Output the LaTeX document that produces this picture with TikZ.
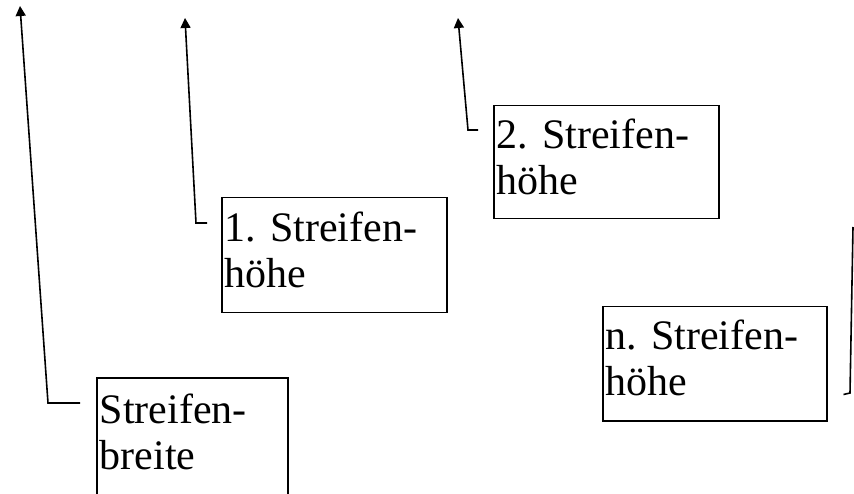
\documentclass[tikz,border=0pt]{standalone}
\usepackage{fontspec}
\setmainfont{Liberation Serif}
\usetikzlibrary{calc,arrows.meta}
\begin{document}
\begin{tikzpicture}[x=1pt,y=-1pt,
  lbl/.style={draw, line width=1.5pt, anchor=north west, align=flush left,
    text width=#1, inner xsep=3pt, inner ysep=0pt,
    font=\fontsize{42}{46}\selectfont},
  conn/.style={line width=1.6pt},
  arr/.style={conn, -{Triangle[width=10pt,length=10pt]}}]
\useasboundingbox (0,0) rectangle (854,494);
% boxes
\node[lbl=185pt, minimum height=120pt] (bb) at (96,377) {\strut Streifen-\\breite\strut};
\node[lbl=219pt, minimum height=115pt] (b1) at (221,197) {\strut 1. Streifen-\\höhe\strut};
\node[lbl=219pt, minimum height=113pt] (b2) at (493,105) {\strut 2. Streifen-\\höhe\strut};
\node[lbl=218pt, minimum height=114pt] (bn) at (602,306) {\strut n. Streifen-\\höhe\strut};
% connector points
\coordinate (sb) at ($(bb.north west)+(-16,26)$);
\coordinate (kb) at (48,403);
\coordinate (tb) at (20,6);
\coordinate (s1) at ($(b1.north west)+(-14,26)$);
\coordinate (k1) at (196,223);
\coordinate (t1) at (185,18);
\coordinate (s2) at ($(b2.north west)+(-15,25)$);
\coordinate (k2) at (468,130);
\coordinate (t2) at (458,18);
\coordinate (sn) at ($(bn.south east)+(16,-27)$);
\coordinate (kn) at (850,393);
\coordinate (tn) at (853,227);
% connectors
\draw[arr] (sb) -- (kb) -- (tb);
\draw[arr] (s1) -- (k1) -- (t1);
\draw[arr] (s2) -- (k2) -- (t2);
\draw[conn] (sn) -- (kn) -- (tn);
\end{tikzpicture}
\end{document}
